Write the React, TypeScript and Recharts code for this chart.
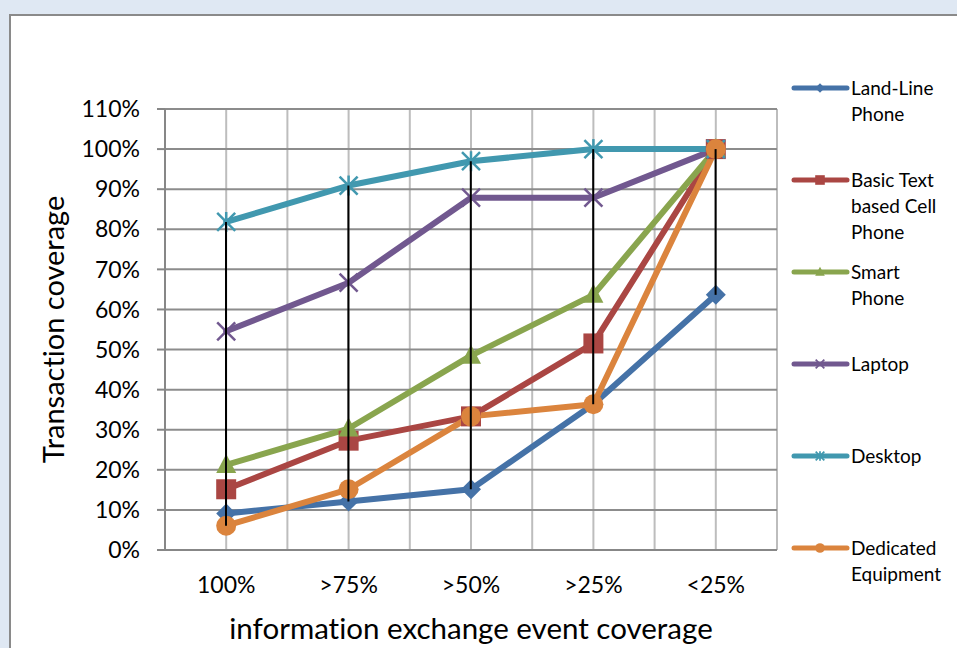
import React from 'react';
import { ComposedChart, Line, Bar, XAxis, YAxis, CartesianGrid, Label } from 'recharts';

const categories = ['100%', '>75%', '>50%', '>25%', '<25%'];
const landLine = [9.09, 12.12, 15.15, 36.36, 63.64];
const basicText = [15.15, 27.27, 33.33, 51.52, 100];
const smartPhone = [21.21, 30.3, 48.48, 63.64, 100];
const laptop = [54.55, 66.67, 87.88, 87.88, 100];
const desktop = [81.82, 90.91, 96.97, 100, 100];
const dedicated = [6.06, 15.15, 33.33, 36.36, 100];
const yTicks = [0, 10, 20, 30, 40, 50, 60, 70, 80, 90, 100, 110];

type MarkerKind = 'diamond' | 'square' | 'triangle' | 'x' | 'star' | 'circle';

const series: { key: string; name: string[]; color: string; marker: MarkerKind; values: number[] }[] = [
  { key: 'landLine', name: ['Land-Line', 'Phone'], color: '#4572a7', marker: 'diamond', values: landLine },
  { key: 'basicText', name: ['Basic Text', 'based Cell', 'Phone'], color: '#aa4643', marker: 'square', values: basicText },
  { key: 'smartPhone', name: ['Smart', 'Phone'], color: '#89a54e', marker: 'triangle', values: smartPhone },
  { key: 'laptop', name: ['Laptop'], color: '#71588f', marker: 'x', values: laptop },
  { key: 'desktop', name: ['Desktop'], color: '#4198af', marker: 'star', values: desktop },
  { key: 'dedicated', name: ['Dedicated', 'Equipment'], color: '#db843d', marker: 'circle', values: dedicated },
];

const data = categories.map((cat, i) => {
  const row: any = { cat };
  const vals: number[] = [];
  series.forEach((s) => {
    row[s.key] = s.values[i];
    vals.push(s.values[i]);
  });
  row.range = [Math.min(...vals), Math.max(...vals)];
  return row;
});

const FONT = 'Lato, "Open Sans", sans-serif';

function Marker({ kind, cx, cy, color, s }: { kind: MarkerKind; cx: number; cy: number; color: string; s: number }) {
  if (cx == null || cy == null) return null;
  switch (kind) {
    case 'diamond':
      return (
        <polygon
          points={`${cx},${cy - 10 * s} ${cx + 10 * s},${cy} ${cx},${cy + 10 * s} ${cx - 10 * s},${cy}`}
          fill={color}
        />
      );
    case 'square':
      return <rect x={cx - 10 * s} y={cy - 10 * s} width={20 * s} height={20 * s} fill={color} />;
    case 'triangle':
      return (
        <polygon
          points={`${cx},${cy - 11 * s} ${cx + 10 * s},${cy + 8 * s} ${cx - 10 * s},${cy + 8 * s}`}
          fill={color}
        />
      );
    case 'x':
      return (
        <g stroke={color} strokeWidth={2.5 * Math.max(s, 0.7)}>
          <line x1={cx - 9 * s} y1={cy - 9 * s} x2={cx + 9 * s} y2={cy + 9 * s} />
          <line x1={cx - 9 * s} y1={cy + 9 * s} x2={cx + 9 * s} y2={cy - 9 * s} />
        </g>
      );
    case 'star':
      return (
        <g stroke={color} strokeWidth={2.5 * Math.max(s, 0.7)}>
          <line x1={cx - 9 * s} y1={cy - 9 * s} x2={cx + 9 * s} y2={cy + 9 * s} />
          <line x1={cx - 9 * s} y1={cy + 9 * s} x2={cx + 9 * s} y2={cy - 9 * s} />
          <line x1={cx} y1={cy - 10 * s} x2={cx} y2={cy + 10 * s} />
        </g>
      );
    case 'circle':
    default:
      return <circle cx={cx} cy={cy} r={10 * s} fill={color} />;
  }
}

function LegendBlock() {
  return (
    <div style={{ position: 'absolute', left: 790, top: 0, width: 167, fontFamily: FONT, fontVariantLigatures: 'none' }}>
      {series.map((s, i) => (
        <div
          key={s.key}
          style={{ position: 'absolute', left: 0, top: 88 - 13 + i * 92, width: 167 }}
        >
          <svg width={60} height={26} style={{ position: 'absolute', left: 0, top: 0 }}>
            <line x1={4} y1={13} x2={57} y2={13} stroke={s.color} strokeWidth={5} strokeLinecap="round" />
            <Marker kind={s.marker} cx={30} cy={13} color={s.color} s={0.48} />
          </svg>
          <div style={{ position: 'absolute', left: 61, top: 0, fontSize: 19, lineHeight: '26px', color: '#000', whiteSpace: 'nowrap' }}>
            {s.name.map((n, j) => (
              <div key={j}>{n}</div>
            ))}
          </div>
        </div>
      ))}
    </div>
  );
}

export default function App() {
  return (
    <div
      style={{
        position: 'fixed',
        left: 0,
        top: 0,
        width: 957,
        height: 648,
        background: '#dfe8f3',
        overflow: 'hidden',
        fontFamily: FONT,
        fontVariantLigatures: 'none',
      }}
    >
      <div
        style={{
          position: 'absolute',
          left: 9,
          top: 14,
          width: 980,
          height: 660,
          background: '#ffffff',
          border: '2px solid #8a8a8a',
          boxSizing: 'border-box',
        }}
      />
      <div style={{ position: 'absolute', left: 0, top: 0 }}>
        <ComposedChart width={957} height={648} data={data} margin={{ top: 109, right: 180, left: 65, bottom: 0 }}>
          <CartesianGrid
            horizontal={false}
            stroke="#bdbdbd"
            strokeWidth={2}
            verticalCoordinatesGenerator={({ offset }: any) =>
              Array.from({ length: 11 }, (_, i) => offset.left + (offset.width * i) / 10)
            }
          />
          <CartesianGrid vertical={false} stroke="#8c8c8c" strokeWidth={2} />
          <XAxis
            dataKey="cat"
            height={98}
            tickLine={false}
            axisLine={{ stroke: '#878787', strokeWidth: 2 }}
            tick={{ fill: '#000', fontSize: 23, fontFamily: FONT }}
            tickSize={6}
            tickMargin={21}
            interval={0}
          >
            <Label
              value="information exchange event coverage"
              position="insideBottom"
              offset={9}
              style={{ fill: '#000', fontSize: 29.5, fontFamily: FONT, fontVariantLigatures: 'none' }}
            />
          </XAxis>
          <YAxis
            width={100}
            domain={[0, 110]}
            ticks={yTicks}
            interval={0}
            tickFormatter={(v: number) => `${v}%`}
            axisLine={{ stroke: '#878787', strokeWidth: 2 }}
            tickLine={{ stroke: '#878787', strokeWidth: 2 }}
            tickSize={8}
            tickMargin={17}
            tick={{ fill: '#000', fontSize: 23, fontFamily: FONT }}
          >
            <Label
              value="Transaction coverage"
              angle={-90}
              position="insideLeft"
              offset={0}
              dx={-11}
              style={{ fill: '#000', fontSize: 29, fontFamily: FONT, textAnchor: 'middle', fontVariantLigatures: 'none' }}
            />
          </YAxis>
          {series.map((s) => (
            <Line
              key={s.key}
              dataKey={s.key}
              stroke={s.color}
              strokeWidth={6}
              strokeLinejoin="round"
              strokeLinecap="round"
              isAnimationActive={false}
              activeDot={false}
              dot={(p: any) => (
                <Marker key={`${s.key}-${p.index}`} kind={s.marker} cx={p.cx} cy={p.cy} color={s.color} s={1} />
              )}
            />
          ))}
          <Bar dataKey="range" barSize={2} fill="#000000" isAnimationActive={false} zIndex={2000} />
        </ComposedChart>
      </div>
      <LegendBlock />
    </div>
  );
}
